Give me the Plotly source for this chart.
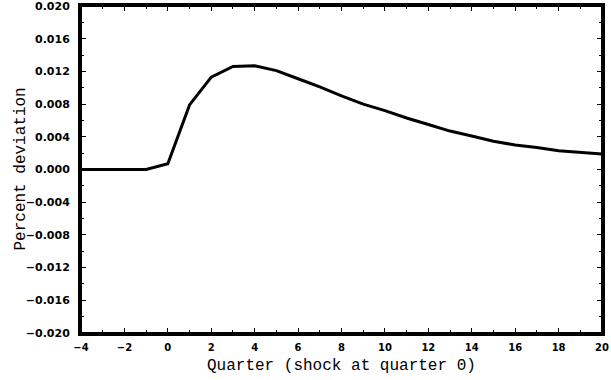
import plotly.graph_objects as go

quarters = list(range(-4, 21))
deviation = [0.0, 0.0, 0.0, 0.0, 0.0007, 0.0079, 0.0113, 0.0126, 0.0127, 0.0121,
             0.0111, 0.0101, 0.0090, 0.0080, 0.0072, 0.0063, 0.0055, 0.0047,
             0.0041, 0.00345, 0.0030, 0.0027, 0.0023, 0.0021, 0.0019]

x_ticks = list(range(-4, 21, 2))
y_ticks = [round(-0.020 + 0.004 * i, 3) for i in range(11)]
x_title = "Quarter (shock at quarter 0)"
y_title = "Percent deviation"

fig = go.Figure()
fig.add_trace(go.Scatter(x=quarters, y=deviation, mode="lines",
                         line=dict(color="black", width=3), showlegend=False))

xtickfont = dict(family="DejaVu Sans", size=10, color="black", weight="bold")
ytickfont = dict(family="DejaVu Sans", size=11, color="black", weight="bold")
titlefont = dict(family="Liberation Mono", size=16, color="black")

fig.update_layout(
    width=611, height=380,
    margin=dict(l=81, r=9, t=6, b=47),
    plot_bgcolor="white", paper_bgcolor="white",
    xaxis=dict(
        range=[-4, 20], tickmode="array", tickvals=x_ticks,
        ticks="inside", ticklen=5, tickwidth=1, tickcolor="black",
        minor=dict(ticks="inside", dtick=1, ticklen=3, tickcolor="black"),
        showline=True, linewidth=3, linecolor="black", mirror="allticks",
        showgrid=False, zeroline=False, tickfont=xtickfont, automargin=False,
        ticklabelstandoff=3, ticklabeloverflow="allow",
    ),
    yaxis=dict(
        range=[-0.020, 0.020], tickmode="array", tickvals=y_ticks, tickformat=".3f",
        ticks="inside", ticklen=5, tickwidth=1, tickcolor="black",
        minor=dict(ticks="inside", dtick=0.002, ticklen=3, tickcolor="black"),
        showline=True, linewidth=3, linecolor="black", mirror="allticks",
        showgrid=False, zeroline=False, tickfont=ytickfont, automargin=False,
        ticklabelstandoff=6, ticklabeloverflow="allow",
    ),
    shapes=[
        dict(type="rect", xref="paper", yref="paper", x0=0, x1=1, y0=0, y1=1,
             line=dict(color="black", width=2), layer="above"),
    ],
    annotations=[
        dict(text=x_title, xref="paper", yref="paper", x=0.5, y=0,
             xanchor="center", yanchor="middle", yshift=-33,
             showarrow=False, font=titlefont),
        dict(text=y_title, xref="paper", yref="paper", x=0, y=0.5,
             xanchor="center", yanchor="middle", xshift=-61, textangle=-90,
             showarrow=False, font=titlefont),
    ],
)

fig.write_html("out.html", config={"displayModeBar": False},
               post_script="document.body.style.margin='0px';")
